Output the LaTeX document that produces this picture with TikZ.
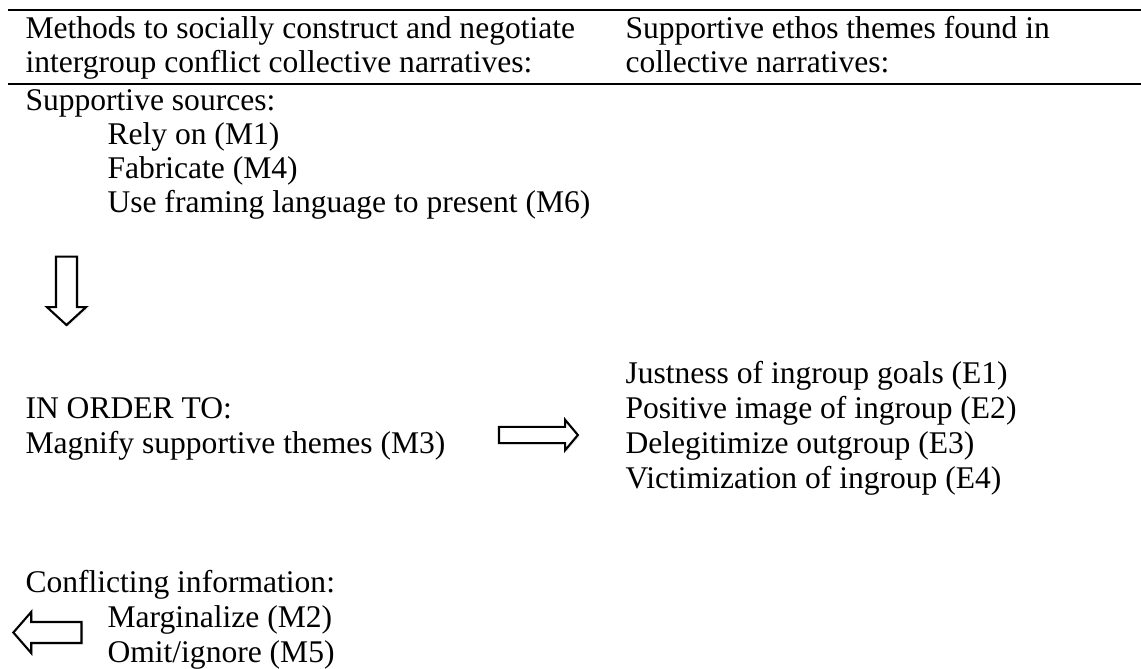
\documentclass[tikz,border=0pt]{standalone}
\usepackage{fontspec}
\setmainfont{Liberation Serif}
\usetikzlibrary{shapes.arrows,shadows}

\begin{document}
\begin{tikzpicture}[
            x=0.3802pt, y=-0.3802pt,
            txt/.style={anchor=base west, inner sep=0pt, font=\fontsize{12}{13.3}\selectfont},
            rule/.style={line width=1pt},
            bigarrow/.style={single arrow, draw=black, fill=white, thick, inner xsep=0pt,
                minimum width=1pt, single arrow head indent=0pt,
                drop shadow={opacity=0.18, shadow xshift=0.6pt, shadow yshift=-0.6pt}},
        ]
            \useasboundingbox (0,0) rectangle (1141,668);
            % table rules
            \coordinate (r1w) at (8,10);   \coordinate (r1e) at (1141,10);
            \coordinate (r2w) at (8,84);   \coordinate (r2e) at (1141,84);
            \draw [rule] (r1w) -- (r1e);
            \draw [rule] (r2w) -- (r2e);

            % header
            \node [txt] (hm1) at (25,38) {Methods to socially construct and negotiate};
            \node [txt] (hm2) at (25,72) {intergroup conflict collective narratives:};
            \node [txt] (he1) at (625,38) {Supportive ethos themes found in};
            \node [txt] (he2) at (625,72) {collective narratives:};

            % methods column
            \node [txt] (src) at (25,110) {Supportive sources:};
            \node [txt] (m1)  at (107,144) {Rely on (M1)};
            \node [txt] (m4)  at (107,178) {Fabricate (M4)};
            \node [txt] (m6)  at (107,212) {Use framing language to present (M6)};

            \node [bigarrow, rotate=-90, minimum height=26pt, inner ysep=3.6pt,
                single arrow head extend=3.4pt, single arrow tip angle=95] (down) at (66.5,286) {};

            \node [txt] (order) at (25,418) {IN ORDER TO:};
            \node [txt] (m3)    at (25,453) {Magnify supportive themes (M3)};

            \node [bigarrow, minimum height=30pt, inner ysep=2.7pt,
                single arrow head extend=2.7pt, single arrow tip angle=100] (right) at (535,435) {};

            % ethos column
            \node [txt] (e1) at (625,383) {Justness of ingroup goals (E1)};
            \node [txt] (e2) at (625,418) {Positive image of ingroup (E2)};
            \node [txt] (e3) at (625,453) {Delegitimize outgroup (E3)};
            \node [txt] (e4) at (625,488) {Victimization of ingroup (E4)};

            % conflicting information
            \node [txt] (conf) at (25,592) {Conflicting information:};
            \node [txt] (m2)   at (107,627) {Marginalize (M2)};
            \node [txt] (m5)   at (107,662) {Omit/ignore (M5)};

            \node [bigarrow, rotate=180, minimum height=25.9pt, inner ysep=3.6pt,
                single arrow head extend=3.8pt, single arrow tip angle=98] (left) at (52,632.5) {};
        \end{tikzpicture}
\end{document}
